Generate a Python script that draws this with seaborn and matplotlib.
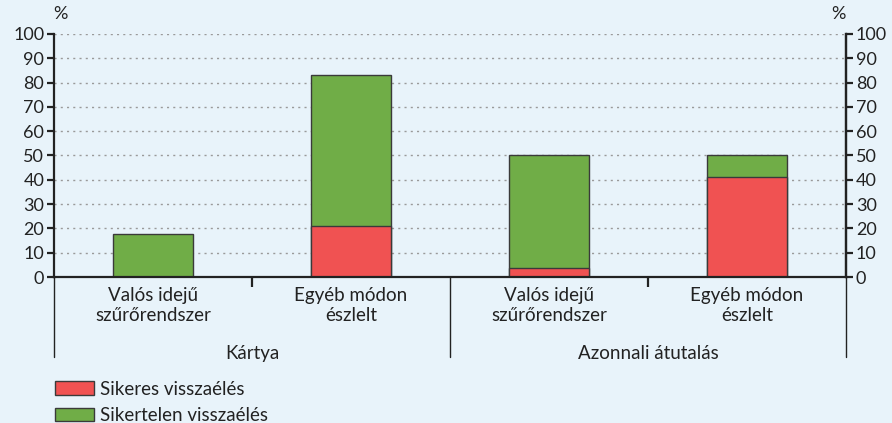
import matplotlib
matplotlib.use("Agg")
import matplotlib.pyplot as plt
import matplotlib.patches as mpatches
import matplotlib.transforms as mtransforms
import pandas as pd
import seaborn as sns

# Data
groups = ["Kártya", "Kártya", "Azonnali átutalás", "Azonnali átutalás"]
methods = ["Valós idejű\nszűrőrendszer", "Egyéb módon\nészlelt",
           "Valós idejű\nszűrőrendszer", "Egyéb módon\nészlelt"]
sikeres = [0, 21, 3.5, 41]          # Sikeres visszaélés (%)
sikertelen = [17.5, 62, 46.5, 9]    # Sikertelen visszaélés (%)
group_names = ["Kártya", "Azonnali átutalás"]
legend_labels = ["Sikeres visszaélés", "Sikertelen visszaélés"]
yticks = list(range(0, 101, 10))

BG = "#E8F3FA"
RED = "#F05252"
GREEN = "#70AD47"
EDGE = "#3A3A3A"
AXC = "#222222"
FS = 13

sns.set_theme(style="white")
plt.rcParams["font.family"] = ["Lato", "DejaVu Sans"]

df = pd.DataFrame({
    "key": [f"{g}|{i}" for i, g in enumerate(groups)],
    "sikeres": sikeres,
    "osszes": [a + b for a, b in zip(sikeres, sikertelen)],
})
order = list(df["key"])

fig = plt.figure(figsize=(8.92, 4.23), dpi=100)
fig.patch.set_facecolor(BG)
ax = fig.add_axes([54 / 892, 1 - 277 / 423, (846 - 54) / 892, (277 - 34) / 423])
ax.set_facecolor(BG)

sns.barplot(data=df, x="key", y="osszes", order=order, color=GREEN,
            width=0.4, saturation=1, edgecolor=EDGE, linewidth=1.0, ax=ax, zorder=3)
sns.barplot(data=df, x="key", y="sikeres", order=order, color=RED,
            width=0.4, saturation=1, edgecolor=EDGE, linewidth=1.0, ax=ax, zorder=4)

ax.set_xlim(-0.5, 3.5)
ax.set_ylim(0, 100)
ax.set_yticks(yticks)
ax.set_yticklabels([str(t) for t in yticks], fontsize=FS, color=AXC)
ax.set_xlabel("")
ax.set_ylabel("")

for t in yticks[1:]:
    ax.axhline(t, color="#9A9A9A", lw=1.0, ls=(0, (1.5, 3)), zorder=1)

ax.spines["top"].set_visible(False)
for s in ["left", "right", "bottom"]:
    ax.spines[s].set_visible(True)
    ax.spines[s].set_color(AXC)
    ax.spines[s].set_linewidth(1.6)
ax.spines["bottom"].set_zorder(5)

ax.tick_params(axis="y", direction="out", length=5, width=1.6, color=AXC, pad=2,
               left=True, labelleft=True)

# right axis duplicate
ax2 = ax.twinx()
ax2.set_ylim(0, 100)
ax2.set_yticks(yticks)
ax2.set_yticklabels([str(t) for t in yticks], fontsize=FS, color=AXC)
ax2.tick_params(axis="y", direction="out", length=5, width=1.6, color=AXC, pad=2)
for s in ["top", "left", "bottom"]:
    ax2.spines[s].set_visible(False)
ax2.spines["right"].set_color(AXC)
ax2.spines["right"].set_linewidth(1.6)
ax2.grid(False)

# x tick marks between the bars of a group
ax.set_xticks([0.5, 2.5])
ax.set_xticklabels([])
ax.tick_params(axis="x", direction="out", length=7, width=1.6, color=AXC, bottom=True)

# category labels
trans = mtransforms.blended_transform_factory(ax.transData, ax.transAxes)
for i, m in enumerate(methods):
    ax.text(i, -0.043, m, transform=trans, ha="center", va="top",
            fontsize=FS + 0.5, color=AXC, linespacing=1.15)
for j, g in enumerate(group_names):
    ax.text(2 * j + 0.5, -0.28, g, transform=trans, ha="center", va="top",
            fontsize=FS + 0.5, color=AXC)
# group separators
for xv in [-0.5, 1.5, 3.5]:
    ax.plot([xv, xv], [0, -0.33], transform=trans, color=AXC, lw=1.0,
            clip_on=False, zorder=5)

# percent signs
fig.text(60 / 892, 1 - 14 / 423, "%", ha="center", va="center", fontsize=FS, color=AXC)
fig.text(838 / 892, 1 - 14 / 423, "%", ha="center", va="center", fontsize=FS, color=AXC)

handles = [mpatches.Patch(facecolor=RED, edgecolor=EDGE, lw=1.0),
           mpatches.Patch(facecolor=GREEN, edgecolor=EDGE, lw=1.0)]
leg = fig.legend(handles, legend_labels, loc="lower left",
                 bbox_to_anchor=(38 / 892, -18 / 423), frameon=False,
                 fontsize=FS + 0.5, handlelength=2.1, handleheight=0.75,
                 handletextpad=0.3, labelspacing=0.5)
for t in leg.get_texts():
    t.set_color(AXC)

fig.savefig("out.png", dpi=100, facecolor=BG)
